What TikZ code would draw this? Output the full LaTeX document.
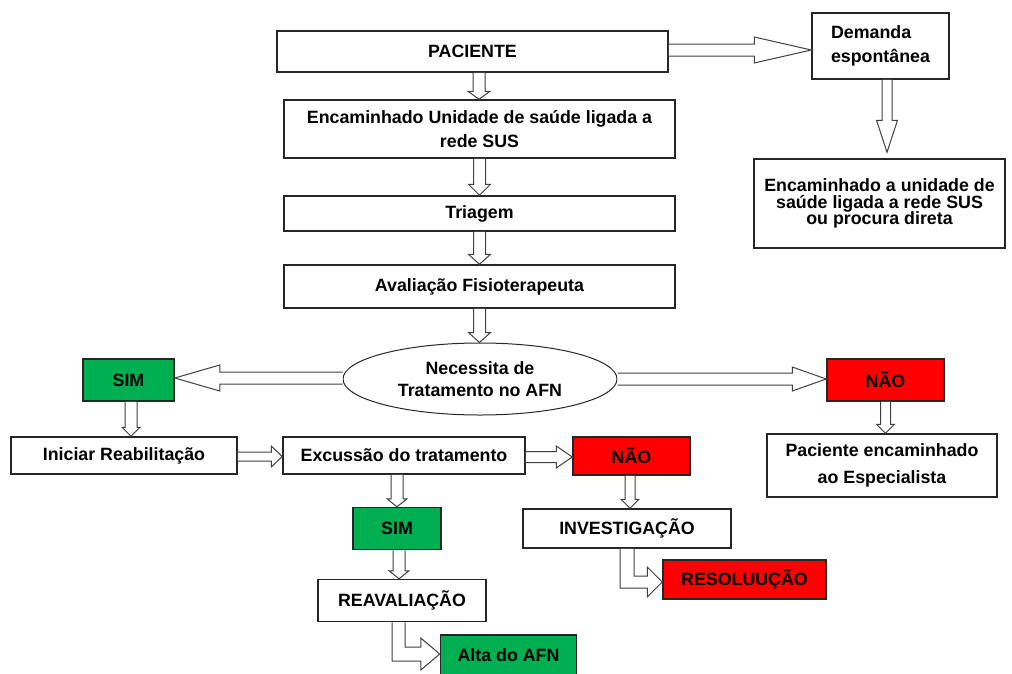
\documentclass[tikz,border=0pt]{standalone}
\usepackage{fontspec}
\setmainfont{Liberation Sans}
\usetikzlibrary{calc,shapes.geometric}
\definecolor{grn}{HTML}{00B050}
\definecolor{rd}{HTML}{FF0000}
\tikzset{
  box/.style={draw=black!85, line width=1.5pt, inner sep=0pt, align=center,
    font=\fontsize{17.8}{24}\selectfont\bfseries},
  gbox/.style={box, fill=grn},
  rbox/.style={box, fill=rd},
  blk/.style={draw=black!75, line width=1pt, fill=white, line join=miter},
}
% down block arrow: src, dst, dx, shaft half, head half, head length, tip gap
\newcommand{\blkdown}[7]{%
  \draw[blk] let \p1=($(#1.south)+(#3,0)$), \p2=(#2.north) in
    (\x1-#4pt,\y1) -- (\x1-#4pt,\y2+#7pt+#6pt) -- (\x1-#5pt,\y2+#7pt+#6pt) --
    (\x1,\y2+#7pt) -- (\x1+#5pt,\y2+#7pt+#6pt) -- (\x1+#4pt,\y2+#7pt+#6pt) --
    (\x1+#4pt,\y1);}
% right block arrow: src, dst, dy, shaft half, head half, head length
\newcommand{\blkright}[6]{%
  \draw[blk] let \p1=($(#1.east)+(0,#3)$), \p2=(#2.west) in
    (\x1,\y1+#4pt) -- (\x2-#6pt,\y1+#4pt) -- (\x2-#6pt,\y1+#5pt) -- (\x2,\y1) --
    (\x2-#6pt,\y1-#5pt) -- (\x2-#6pt,\y1-#4pt) -- (\x1,\y1-#4pt);}
% left block arrow
\newcommand{\blkleft}[6]{%
  \draw[blk] let \p1=($(#1.west)+(0,#3)$), \p2=(#2.east) in
    (\x1,\y1+#4pt) -- (\x2+#6pt,\y1+#4pt) -- (\x2+#6pt,\y1+#5pt) -- (\x2,\y1) --
    (\x2+#6pt,\y1-#5pt) -- (\x2+#6pt,\y1-#4pt) -- (\x1,\y1-#4pt);}
% L-shaped block arrow: src, dst, dx, dy, vertical half, horizontal half, head half, head length
\newcommand{\blkL}[8]{%
  \draw[blk] let \p1=($(#1.south)+(#3,0)$), \p2=($(#2.west)+(0,#4)$) in
    (\x1-#5pt,\y1) -- (\x1-#5pt,\y2-#6pt) -- (\x2-#8pt,\y2-#6pt) -- (\x2-#8pt,\y2-#7pt) --
    (\x2,\y2) -- (\x2-#8pt,\y2+#7pt) -- (\x2-#8pt,\y2+#6pt) -- (\x1+#5pt,\y2+#6pt) --
    (\x1+#5pt,\y1);}
\begin{document}
\begin{tikzpicture}[x=1pt,y=-1pt]
\useasboundingbox (0,0) rectangle (1012,673);
\clip (0,0) rectangle (1012,673);

% left column
\node[box, minimum width=391pt, minimum height=41pt] (pac) at (472.5,51.5) {PACIENTE};
\node[box, minimum width=391pt, minimum height=58pt] (enc) at (479.5,129) {Encaminhado Unidade de saúde ligada a\\rede SUS};
\node[box, minimum width=391pt, minimum height=35pt] (tri) at (479.5,213.5) {Triagem};
\node[box, minimum width=391pt, minimum height=43pt] (ava) at (479.5,286.5) {Avaliação Fisioterapeuta};
\node[ellipse, draw=black!85, line width=1pt, minimum width=274pt, minimum height=72pt,
      inner sep=0pt, align=center, font=\fontsize{17.8}{22}\selectfont\bfseries] (nec) at (480,379)
      {Necessita de\\Tratamento no AFN};

% right column
\node[box, align=left, minimum width=137pt, minimum height=66pt] (dem) at (880.5,46) {Demanda\\espontânea};
\node[box, minimum width=251pt, minimum height=89pt, font=\fontsize{17.8}{16.8}\selectfont\bfseries] (enc2) at (879.5,203.5)
  {Encaminhado a unidade de\\saúde ligada a rede SUS\\ou procura direta};

% decision outcomes
\node[gbox, minimum width=91pt, minimum height=42pt] (sim1) at (128.5,380) {SIM};
\node[rbox, minimum width=117pt, minimum height=42pt] (nao1) at (885.5,380) {NÃO};
\node[box, minimum width=230pt, minimum height=63pt, font=\fontsize{17.8}{27}\selectfont\bfseries] (pe) at (882,465.5)
  {Paciente encaminhado\\ao Especialista};

\node[box, minimum width=226pt, minimum height=37pt] (ini) at (124,455.5) {Iniciar Reabilitação};
\node[box, minimum width=242pt, minimum height=37pt] (exc) at (404,455.5) {Excussão do tratamento};
\node[rbox, minimum width=117pt, minimum height=38pt] (nao2) at (631.5,456) {NÃO};
\node[gbox, minimum width=88pt, minimum height=42pt] (sim2) at (397,528.5) {SIM};
\node[box, minimum width=208pt, minimum height=39pt] (inv) at (627,528.5) {INVESTIGAÇÃO};
\node[rbox, minimum width=163pt, minimum height=39pt] (res) at (744.5,579.5) {RESOLUUÇÃO};
\node[box, minimum width=168pt, minimum height=42pt] (rea) at (402,600.5) {REAVALIAÇÃO};
\node[gbox, minimum width=136pt, minimum height=40pt] (alt) at (508.5,655) {Alta do AFN};

% arrows
\blkdown{pac}{enc}{6.5}{6}{11}{8}{0}
\blkdown{enc}{tri}{0}{6}{11}{11}{0}
\blkdown{tri}{ava}{0}{6}{11}{10}{0}
\blkdown{ava}{nec}{0}{6}{11}{10}{0}
\blkright{pac}{dem}{-1.5}{6}{13}{57}
\blkdown{dem}{enc2}{6.5}{5}{10.5}{32}{6}
\blkleft{nec}{sim1}{-1}{6}{13}{45}
\blkright{nec}{nao1}{0}{6}{12}{34}
\blkdown{sim1}{ini}{2.5}{6}{9}{9}{0}
\blkright{ini}{exc}{1}{4.5}{10.5}{11}
\blkright{exc}{nao2}{1.5}{5.5}{11}{16}
\blkdown{nao1}{pe}{0}{5}{9}{9}{0}
\blkdown{exc}{sim2}{-7}{6}{10}{8}{0}
\blkdown{nao2}{inv}{-1.5}{5}{9}{9}{0}
\blkdown{sim2}{rea}{2}{6}{10}{8}{0}
\blkL{inv}{res}{0}{2.5}{7}{6}{15}{15}
\blkL{rea}{alt}{-3.5}{-1}{6.5}{7}{16}{19}
\end{tikzpicture}
\end{document}
